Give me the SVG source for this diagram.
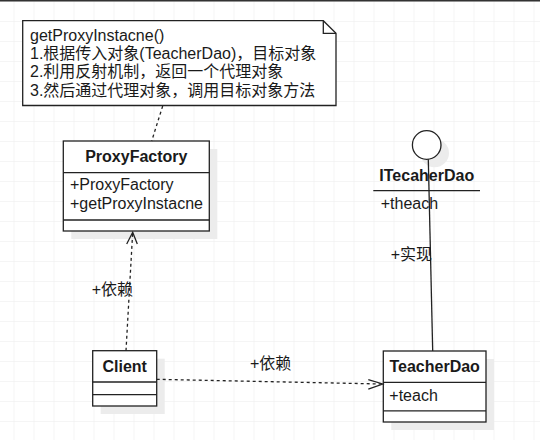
<svg xmlns="http://www.w3.org/2000/svg" width="540" height="440" viewBox="0 0 540 440">
<defs>
<style>
.grid line{stroke:#ebebeb;stroke-width:1}
.box{fill:#fff;stroke:#222;stroke-width:1.3}
.sh{fill:#ececec;stroke:none}
.ln{stroke:#222;stroke-width:1.3;fill:none}
.dash{stroke:#222;stroke-width:1.3;fill:none;stroke-dasharray:3 3}
text{font-family:"Liberation Sans","Noto Sans CJK SC",sans-serif;font-size:16px;fill:#1a1a1a}
.b{font-weight:bold}
.m{text-anchor:middle}
</style>
<pattern id="g" x="13.5" y="1" width="20" height="20" patternUnits="userSpaceOnUse">
<path d="M0 0V20M0 0H20" stroke="#ebebeb" stroke-width="1" fill="none"/>
</pattern>
</defs>
<rect width="540" height="440" fill="#fff"/>
<rect x="0" y="1" width="540" height="439" fill="url(#g)"/>
<line x1="0" y1="0.7" x2="540" y2="0.7" stroke="#333" stroke-width="1.5"/>

<g id="note">
<path class="box" d="M22.7 20.7H323.3L336 33.3V105.5H22.7Z"/>
<path class="ln" d="M323.3 20.7V33.3H336"/>
<text x="30" y="40.7">getProxyInstacne()</text>
<text x="30" y="59">1.根据传入对象(TeacherDao)，目标对象</text>
<text x="30" y="77.3">2.利用反射机制，返回一个代理对象</text>
<text x="30" y="95.6">3.然后通过代理对象，调用目标对象方法</text>
</g>

<g id="ProxyFactory">
<rect class="sh" x="71.3" y="149" width="146" height="90"/>
<rect class="box" x="63.3" y="141" width="146" height="90"/>
<line class="ln" x1="63.3" y1="172.7" x2="209.3" y2="172.7"/>
<line class="ln" x1="63.3" y1="220" x2="209.3" y2="220"/>
<text class="b m" x="136.3" y="162.4">ProxyFactory</text>
<text x="70" y="190">+ProxyFactory</text>
<text x="70" y="209">+getProxyInstacne</text>
</g>

<g id="ITecaherDao">
<circle class="sh" cx="434.7" cy="153" r="14.3"/>
<circle class="box" cx="426.7" cy="145" r="14.3"/>
<text class="b" x="379.3" y="180.5">ITecaherDao</text>
<line class="ln" x1="373.3" y1="190.7" x2="480" y2="190.7"/>
<text x="380.7" y="209">+theach</text>
</g>

<g id="Client">
<rect class="sh" x="100.7" y="358.7" width="64" height="55.3"/>
<rect class="box" x="92.7" y="350.7" width="64" height="55.3"/>
<line class="ln" x1="92.7" y1="382" x2="156.7" y2="382"/>
<line class="ln" x1="92.7" y1="394.7" x2="156.7" y2="394.7"/>
<text class="b m" x="124.7" y="371.8">Client</text>
</g>

<g id="TeacherDao">
<rect class="sh" x="391.3" y="359" width="102.7" height="71"/>
<rect class="box" x="383.3" y="351" width="102.7" height="71"/>
<line class="ln" x1="383.3" y1="382.3" x2="486" y2="382.3"/>
<line class="ln" x1="383.3" y1="410.8" x2="486" y2="410.8"/>
<text class="b m" x="434.7" y="372">TeacherDao</text>
<text x="389.3" y="400.5">+teach</text>
</g>

<g id="connectors">
<line class="dash" x1="162.7" y1="106" x2="151.7" y2="141"/>
<line class="dash" x1="126" y1="350.7" x2="132.7" y2="232"/>
<path class="ln" d="M126.7 244L132.7 232.3L137.3 244"/>
<text x="91.7" y="295">+依赖</text>
<line class="dash" x1="156.7" y1="379.3" x2="382.5" y2="384"/>
<path class="ln" d="M368.3 379.6L382.7 384L368.3 389.2"/>
<text x="250" y="369">+依赖</text>
<line class="ln" x1="428.3" y1="159.3" x2="432.7" y2="351"/>
<text x="390.7" y="259.5">+实现</text>
</g>
</svg>
